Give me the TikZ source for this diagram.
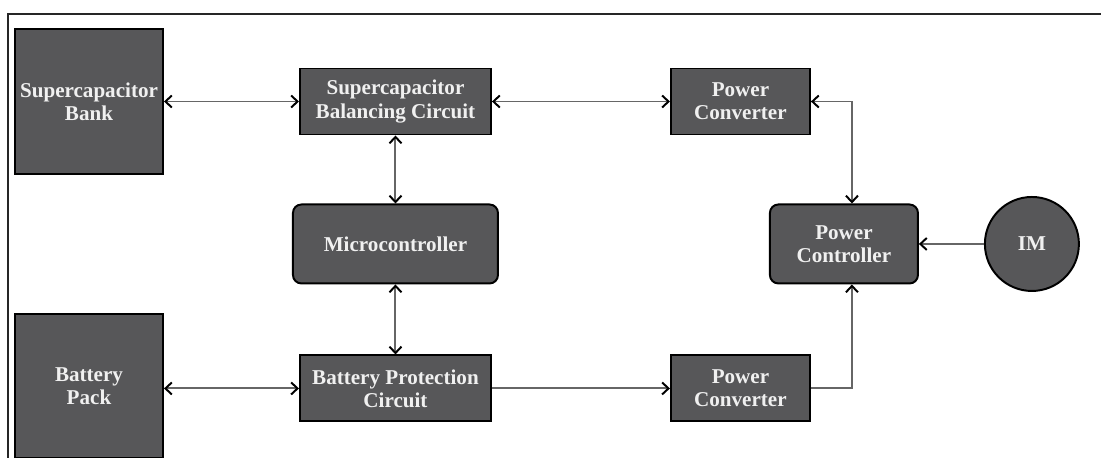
\documentclass[tikz,border=0pt]{standalone}
\usepackage{fontspec}
\setmainfont{Liberation Serif}
\usetikzlibrary{arrows.meta, positioning}
\definecolor{BoxGray}{rgb}{0.34, 0.34, 0.35}
\definecolor{LabelWhite}{rgb}{0.94, 0.94, 0.94}
\definecolor{WireGray}{rgb}{0.40, 0.40, 0.40}

\begin{document}
\begin{tikzpicture}[
    font=\bfseries\fontsize{15}{16.5}\selectfont,
    link/.style={{Straight Barb[length=1.6mm, width=3mm, color=black]}-{Straight Barb[length=1.6mm, width=3mm, color=black]},
        line width=1.4pt, WireGray},
    feed/.style={-{Straight Barb[length=1.6mm, width=3mm, color=black]}, line width=1.4pt, WireGray},
    block/.style={draw=black, line width=1.4pt, fill=BoxGray, text=LabelWhite, align=center,
        inner sep=2pt, minimum height=1.65cm},
    ctrl/.style={block, rounded corners=6pt, minimum height=1.975cm},
    motor/.style={draw=black, line width=1.4pt, circle, fill=BoxGray, text=LabelWhite,
        inner sep=0pt, minimum size=2.35cm},
]
\useasboundingbox (0,0) rectangle (27.525,-11.425);

% --- marco ---
\draw[line width=1.4pt, black!85] (0.2,-11.7) |- (27.8,-0.35);

% --- almacenamiento ---
\node[block, minimum width=3.7cm, minimum height=3.625cm] (scbank) at (2.225,-2.5375) {Supercapacitor\\Bank};
\node[block, minimum width=3.7cm, minimum height=3.6cm, below=3.45cm of scbank] (batt) {Battery\\Pack};

% --- circuitos ---
\node[block, minimum width=4.775cm, right=3.375cm of scbank] (scbal) {Supercapacitor\\Balancing Circuit};
\node[ctrl, minimum width=5.125cm, below=1.7cm of scbal] (micro) {Microcontroller};
\node[block, minimum width=4.775cm, below=1.75cm of micro] (bprot) {Battery Protection\\Circuit};

% --- convertidores y control ---
\node[block, minimum width=3.475cm, right=4.45cm of scbal] (pconvtop) {Power\\Converter};
\node[block, minimum width=3.475cm, right=4.45cm of bprot] (pconvbot) {Power\\Converter};
\node[ctrl, minimum width=3.7cm, right=6.75cm of micro] (pctrl) {Power\\Controller};
\node[motor, right=1.625cm of pctrl] (im) {IM};

\draw[link] (scbank) -- (scbal);
\draw[link] (scbal) -- (pconvtop);
\draw[link] (scbal) -- (micro);
\draw[link] (micro) -- (bprot);
\draw[link] (batt.east |- bprot) -- (bprot);
\draw[feed] (bprot) -- (pconvbot);
\draw[link] (pconvtop.east) -| ([xshift=0.2cm]pctrl.north);
\draw[feed] (pconvbot.east) -| ([xshift=0.2cm]pctrl.south);
\draw[feed] (im) -- (pctrl);

\end{tikzpicture}
\end{document}
